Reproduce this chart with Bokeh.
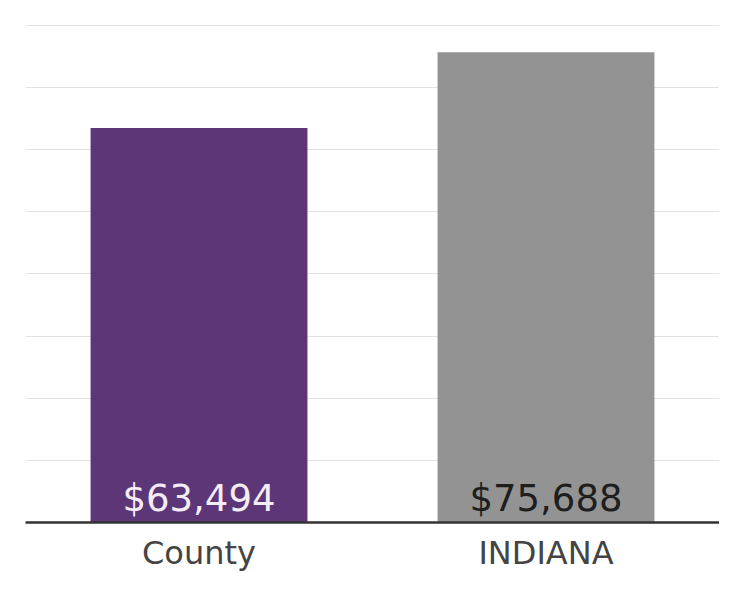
from bokeh.plotting import figure
from bokeh.models import ColumnDataSource, FactorRange, Range1d, SingleIntervalTicker, LabelSet
from bokeh.core.properties import value
from bokeh.embed import file_html
from bokeh.resources import INLINE

categories = ["County", "INDIANA"]
values = [63494, 75688]
value_labels = ["$63,494", "$75,688"]
bar_colors = ["#5c3677", "#939393"]
label_colors = ["#f4ecf7", "#1e1e1e"]

src = ColumnDataSource(dict(cat=categories, val=values, lab=value_labels,
                            col=bar_colors, lcol=label_colors))

p = figure(width=719, height=574, output_backend="svg", toolbar_location=None,
           x_range=FactorRange(*categories, range_padding=0),
           y_range=Range1d(0, 84000),
           min_border_left=25, min_border_right=0, min_border_top=0, min_border_bottom=0)
p.outline_line_color = None
p.background_fill_color = "white"
p.border_fill_color = "white"

p.vbar(x="cat", top="val", width=0.625, source=src, fill_color="col", line_color=None)

labels = LabelSet(x="cat", y=0, text="lab", source=src, text_align="center",
                  text_baseline="alphabetic", y_offset=12, text_font_size="37px",
                  text_font=value("DejaVu Sans"), text_color="lcol")
p.add_layout(labels)

p.yaxis.visible = False
p.ygrid.ticker = SingleIntervalTicker(interval=10000)
p.ygrid.grid_line_color = "#e2e2e2"
p.ygrid.grid_line_width = 1
p.xgrid.grid_line_color = None

p.xaxis.axis_line_color = "#333333"
p.xaxis.axis_line_width = 2.5
p.xaxis.major_tick_line_color = None
p.xaxis.minor_tick_line_color = None
p.xaxis.major_tick_out = 0
p.xaxis.major_tick_in = 0
p.xaxis.major_label_text_font = "DejaVu Sans"
p.xaxis.major_label_text_font_size = "32px"
p.xaxis.major_label_text_color = "#444444"
p.xaxis.major_label_standoff = 11

open("out.html", "w").write(file_html(p, INLINE))
